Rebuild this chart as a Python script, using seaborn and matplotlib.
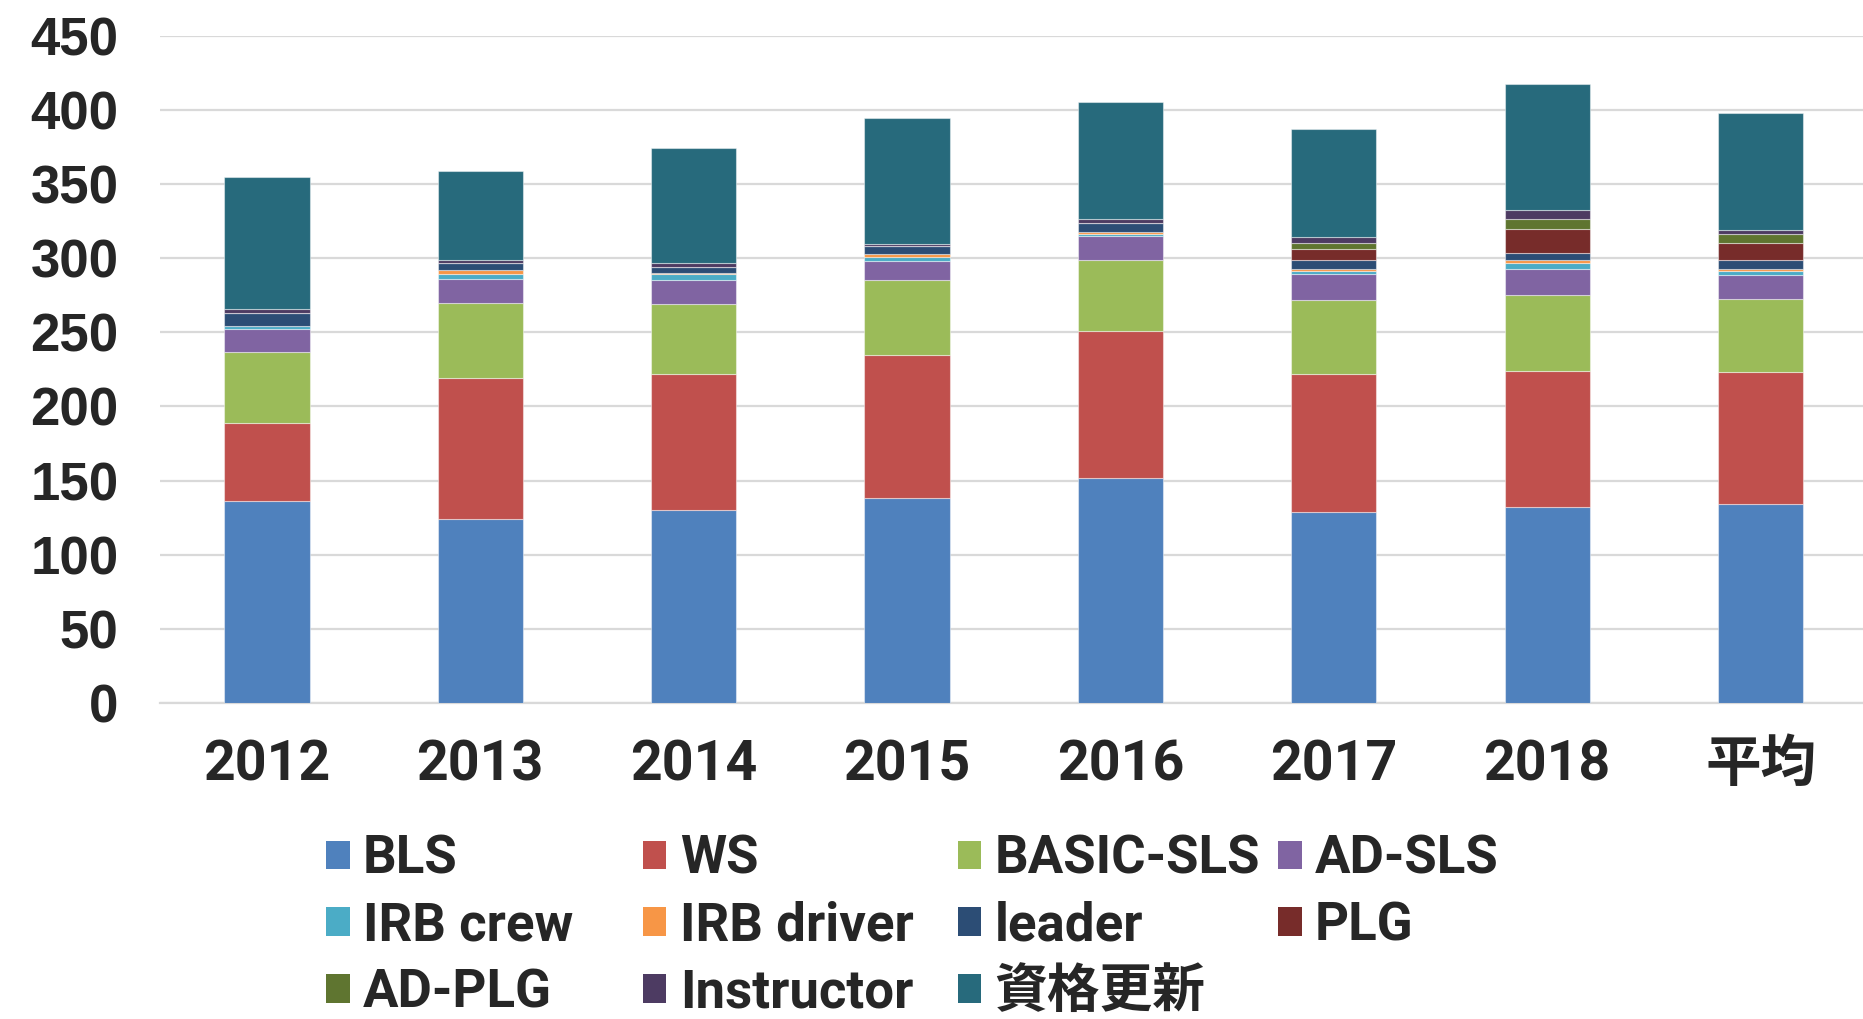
import matplotlib
matplotlib.use("Agg")
import matplotlib.pyplot as plt
from matplotlib.patches import Patch
import numpy as np
import seaborn as sns

# Categories and stacked series
years = ["2012", "2013", "2014", "2015", "2016", "2017", "2018", "平均"]
series_names = ["BLS", "WS", "BASIC-SLS", "AD-SLS", "IRB crew", "IRB driver",
                "leader", "PLG", "AD-PLG", "Instructor", "資格更新"]
bls        = [136, 124, 130, 138, 152, 129, 132.5, 134]
ws         = [53, 95, 92, 97, 99, 93, 91.5, 89.5]
basic_sls  = [48, 51, 47, 50, 48, 50, 51, 49]
ad_sls     = [15, 16, 16, 13, 16, 17, 18, 16]
irb_crew   = [2, 3, 4, 3, 1, 2, 4, 3]
irb_driver = [0, 3, 1, 2, 1.5, 1.5, 2, 1.5]
leader     = [9, 5, 4, 5, 6, 6, 4.5, 6]
plg        = [0, 0, 0, 0, 0, 8, 16, 11.5]
ad_plg     = [0, 0, 0, 0, 0, 3.5, 7, 6]
instructor = [3, 2, 3, 1.5, 3, 4, 6, 2.5]
renewal    = [89, 60, 77, 85, 79, 73, 85, 79]

series = [bls, ws, basic_sls, ad_sls, irb_crew, irb_driver,
          leader, plg, ad_plg, instructor, renewal]
colors = ["#4F81BD", "#C0504D", "#9BBB59", "#8064A2", "#4BACC6", "#F79646",
          "#2C4D75", "#772C2A", "#5F7530", "#4D3B62", "#276A7C"]

sns.set_style("white")
label_family = ["Roboto", "Noto Sans CJK JP", "DejaVu Sans"]
plt.rcParams["font.family"] = label_family

fig = plt.figure(figsize=(18.63, 10.19), dpi=100)
ax = fig.add_axes([0.086, 0.31, 0.914, 0.655])

# Stacked bars, one layer per series
bottom = np.zeros(len(years))
for name, vals, col in zip(series_names, series, colors):
    sns.barplot(x=years, y=vals, color=col, bottom=bottom, width=0.4,
                edgecolor=(1, 1, 1, 0.45), linewidth=0.8, saturation=1, ax=ax,
                zorder=3)
    bottom = bottom + np.array(vals)

ax.set_ylim(0, 450)
ax.set_xlim(-0.5, 7.48)
ax.set_yticks(range(0, 451, 50))
ax.yaxis.grid(True, color="#D9D9D9", linewidth=1.6, zorder=0)
ax.set_axisbelow(True)
for s in ["top", "right", "left"]:
    ax.spines[s].set_visible(False)
ax.spines["bottom"].set_color("#D9D9D9")
ax.spines["bottom"].set_linewidth(1.6)
ax.tick_params(axis="both", length=0)
ax.tick_params(axis="y", pad=30)
ax.tick_params(axis="x", pad=26)
for lab in ax.get_yticklabels():
    lab.set_family(["Liberation Sans", "DejaVu Sans"])
    lab.set_fontweight("bold")
    lab.set_fontsize(38)
for lab in ax.get_xticklabels():
    lab.set_fontweight("bold")
    lab.set_fontsize(40)
ax.set_xlabel("")
ax.set_ylabel("")

# Legend laid out row by row in four fixed columns
handles = [Patch(facecolor=c, edgecolor="none") for c in colors]
col_x = [0.175, 0.345, 0.514, 0.686]
for ci, x0 in enumerate(col_x):
    idx = list(range(ci, len(series_names), 4))
    fig.legend([handles[i] for i in idx], [series_names[i] for i in idx],
               loc="upper left", bbox_to_anchor=(x0, 0.182), frameon=False,
               prop={"family": label_family, "size": 38, "weight": "bold"},
               handlelength=0.45, handleheight=0.45, handletextpad=0.25,
               labelspacing=0.3, borderpad=0, borderaxespad=0)

fig.savefig("out.png", dpi=100)
